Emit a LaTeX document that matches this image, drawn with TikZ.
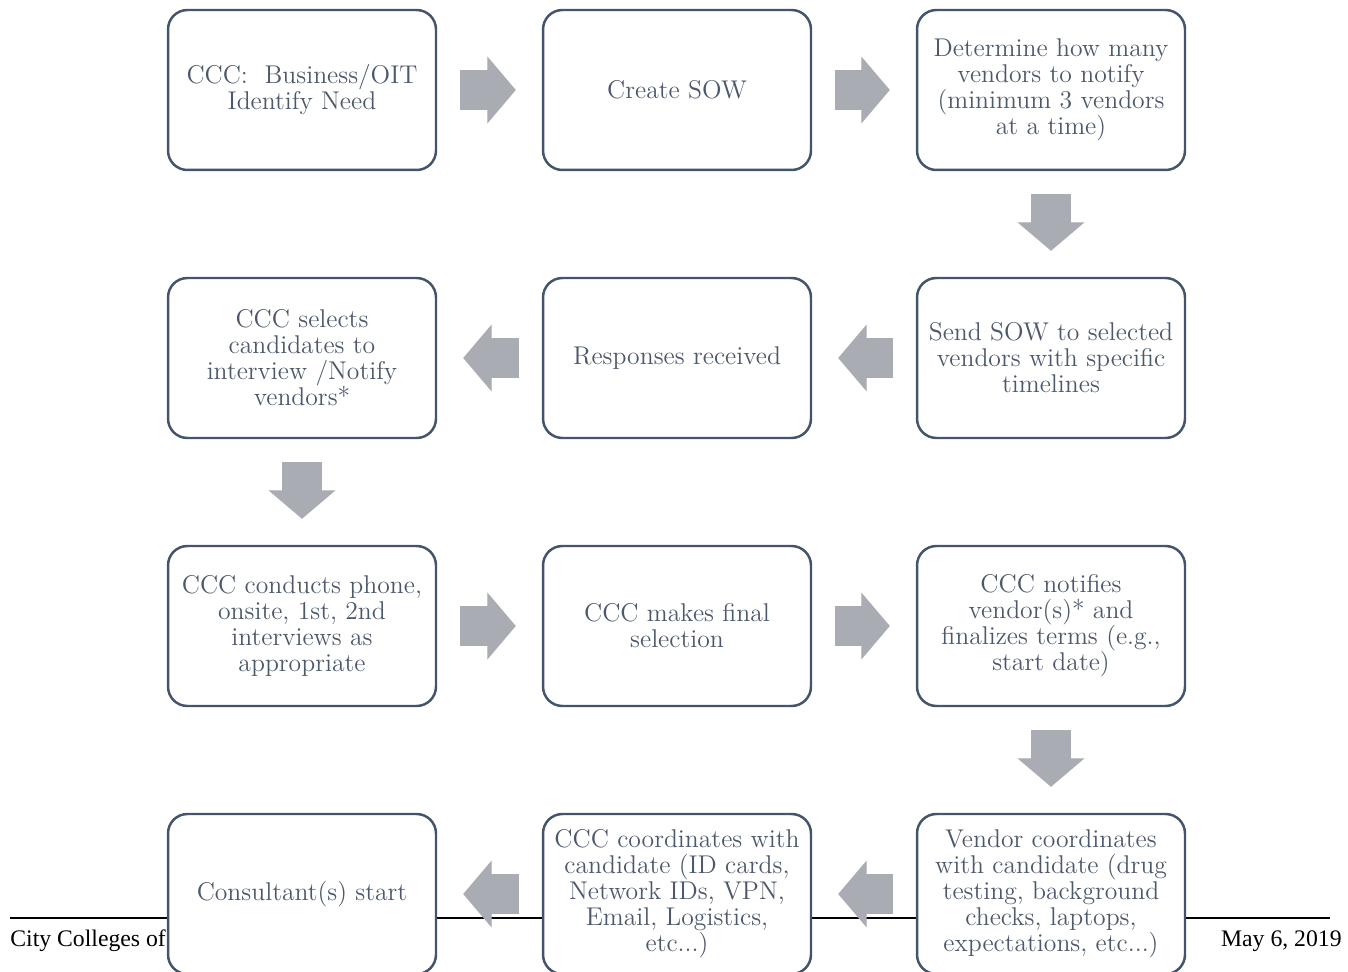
\documentclass[tikz,border=0pt]{standalone}
\usepackage{fontspec}
\newfontfamily\footfont{Liberation Serif}
\usetikzlibrary{arrows.meta}
\definecolor{boxline}{HTML}{44546A}
\definecolor{boxtext}{HTML}{4C586B}
\definecolor{flowgray}{HTML}{A9ACB2}

\begin{document}
\begin{tikzpicture}[x=0.02cm,y=-0.02cm,
  stepbox/.style={draw=boxline, line width=1.4pt, fill=white, rounded corners=11pt,
    minimum width=5.36cm, minimum height=3.2cm, inner sep=0pt, align=center,
    text=boxtext, font=\fontsize{14.6}{14.8}\selectfont},
  flow/.style={draw=flowgray, line width=0.8cm, shorten <=0.46cm, shorten >=0.52cm,
    -{Triangle[length=0.57cm, width=1.34cm, line width=0.6pt]}},
  footer/.style={font=\footfont\fontsize{13.5}{16}\selectfont, inner sep=0pt}]
  \useasboundingbox (0,0) rectangle (1348,972);
  \clip (0,0) rectangle (1348,972);

  % Page footer
  \draw[line width=0.6pt] (10,918) -- (1330,918);
  \node[footer, anchor=base west] (org) at (10,946) {City Colleges of};
  \node[footer, anchor=base east] (date) at (1342,946) {May 6, 2019};

  % Row 1
  \node[stepbox] (need) at (302,90) {CCC:~~Business/OIT\\Identify Need};
  \node[stepbox] (sow) at (677,90) {Create SOW};
  \node[stepbox] (count) at (1051,90) {Determine how many\\vendors to notify\\(minimum 3 vendors\\at a time)};

  % Row 2
  \node[stepbox] (select) at (302,358) {CCC selects\\candidates to\\interview /Notify\\vendors*};
  \node[stepbox] (responses) at (677,358) {Responses received};
  \node[stepbox] (send) at (1051,358) {Send SOW to selected\\vendors with specific\\timelines};

  % Row 3
  \node[stepbox] (interview) at (302,626) {CCC conducts phone,\\onsite, 1st, 2nd\\interviews as\\appropriate};
  \node[stepbox] (final) at (677,626) {CCC makes final\\selection};
  \node[stepbox] (notify) at (1051,626) {CCC notifies\\vendor(s)* and\\finalizes terms (e.g.,\\start date)};

  % Row 4
  \node[stepbox] (start) at (302,894) {Consultant(s) start};
  \node[stepbox] (coord) at (677,894) {CCC coordinates with\\candidate (ID cards,\\Network IDs, VPN,\\Email, Logistics,\\etc...)};
  \node[stepbox] (vendor) at (1051,894) {Vendor coordinates\\with candidate (drug\\testing, background\\checks, laptops,\\expectations, etc...)};

  % Flow arrows
  \draw[flow] (need) -- (sow);
  \draw[flow] (sow) -- (count);
  \draw[flow] (count) -- (send);
  \draw[flow] (send) -- (responses);
  \draw[flow] (responses) -- (select);
  \draw[flow] (select) -- (interview);
  \draw[flow] (interview) -- (final);
  \draw[flow] (final) -- (notify);
  \draw[flow] (notify) -- (vendor);
  \draw[flow] (vendor) -- (coord);
  \draw[flow] (coord) -- (start);
\end{tikzpicture}
\end{document}
